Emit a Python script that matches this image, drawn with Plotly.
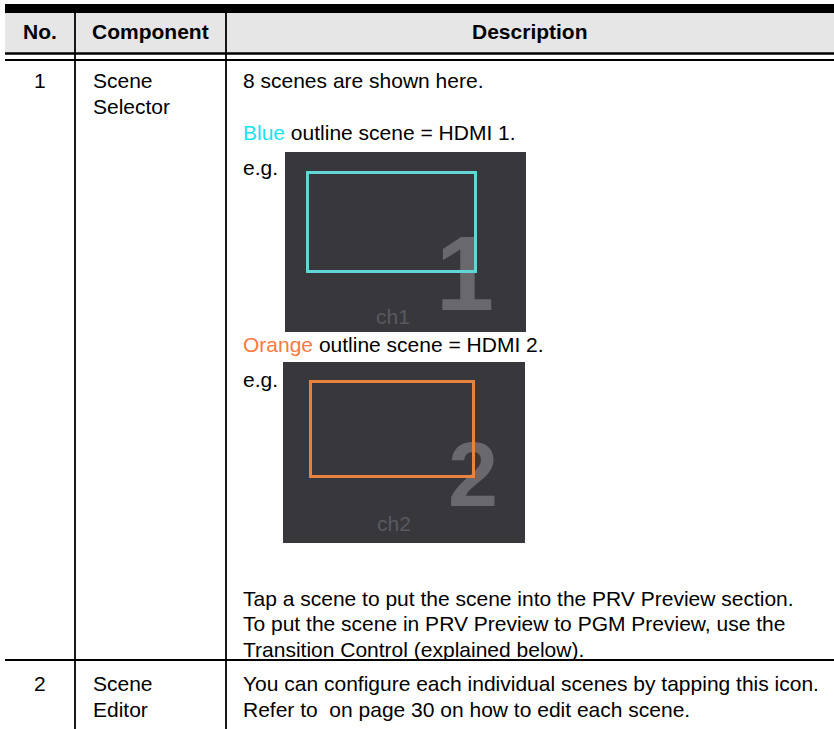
import plotly.graph_objects as go

# ---------------- data (text content of the table) ----------------
header_labels = ["No.", "Component", "Description"]
row_numbers = ["1", "2"]
row_components = [["Scene", "Selector"], ["Scene", "Editor"]]
row1_intro = "8 scenes are shown here."
scene_color_words = ["Blue", "Orange"]
scene_outline_text = ["outline scene = HDMI 1.", "outline scene = HDMI 2."]
scene_example_label = "e.g."
scene_channel_digits = ["1", "2"]
scene_channel_labels = ["ch1", "ch2"]
row1_outro = [
    "Tap a scene to put the scene into the PRV Preview section.",
    "To put the scene in PRV Preview to PGM Preview, use the",
    "Transition Control (explained below).",
]
row2_desc = [
    "You can configure each individual scenes by tapping this icon.",
    "Refer to\u00a0 on page 30 on how to edit each scene.",
]

# ---------------- layout geometry / styles ----------------
W, H = 834, 729
FONT = "Liberation Sans, Arial, Helvetica, sans-serif"
FS = 21
TXT = "#000000"
LEFT = 5
COL_DIV = [75, 226]
COL_CENTERS = [40, 150.5, 530]
X_COMP = 92
X_DESC = 242
HEADER_Y = 31.5
ROW1_Y = [80, 106]
ROW2_Y = [683.5, 709]
INTRO_Y = 80
OUTLINE_Y = [132, 344]
EG_Y = [167.5, 379.5]
OUTRO_Y = [598, 623.5, 649]
ROW_SEP_Y = 660
WORD_COLORS = ["#19E3F2", "#F97A40"]
OUTLINE_COLORS = ["#62D5D6", "#E8823F"]
THUMB_BG = "#37373C"
THUMBS = [  # x0, x1, y0, y1 of the screenshot tiles
    (285, 526, 152, 332),
    (283, 525, 362, 543),
]
OUTLINES = [
    (307.5, 475.5, 172.5, 271.5),
    (310.5, 473.5, 381.5, 476.5),
]
DIGIT_POS = [(465, 284, 105), (473, 483, 90)]
CH_POS = [(393, 316.5), (393.5, 523)]

fig = go.Figure()

shapes = []
# header background and top band
shapes.append(dict(type="rect", x0=LEFT, x1=W, y0=13, y1=52.5, fillcolor="#E6E6E6",
                   line=dict(width=0), layer="below"))
shapes.append(dict(type="rect", x0=LEFT, x1=W, y0=4, y1=13, fillcolor="#000000",
                   line=dict(width=0), layer="below"))
# double rule under header
shapes.append(dict(type="line", x0=LEFT, x1=W, y0=53.5, y1=53.5, line=dict(color="#000", width=2.3)))
shapes.append(dict(type="line", x0=LEFT, x1=W, y0=60, y1=60, line=dict(color="#000", width=1.8)))
# row separator
shapes.append(dict(type="line", x0=LEFT, x1=W, y0=ROW_SEP_Y, y1=ROW_SEP_Y, line=dict(color="#000", width=1.8)))
# column dividers
for xd in COL_DIV:
    shapes.append(dict(type="line", x0=xd, x1=xd, y0=13, y1=H, line=dict(color="#000", width=1.8)))
# thumbnails
for (x0, x1, y0, y1) in THUMBS:
    shapes.append(dict(type="rect", x0=x0, x1=x1, y0=y0, y1=y1, fillcolor=THUMB_BG,
                       line=dict(width=0), layer="below"))
for (x0, x1, y0, y1), col in zip(OUTLINES, OUTLINE_COLORS):
    shapes.append(dict(type="rect", x0=x0, x1=x1, y0=y0, y1=y1, fillcolor="rgba(0,0,0,0)",
                       line=dict(color=col, width=3), layer="above"))

# big channel digits (drawn under the outlines)
for d, (x, y, s) in zip(scene_channel_digits, DIGIT_POS):
    fig.add_trace(go.Scatter(
        x=[x], y=[y], mode="text", text=[f"<b>{d}</b>"], textposition="middle center",
        textfont=dict(family=FONT, size=s, color="#68686D"), hoverinfo="skip", showlegend=False))

ann = []


def add_text(x, y, text, anchor="left", bold=False, color=TXT, size=FS):
    ann.append(dict(x=x, y=y, xref="x", yref="y", text=(f"<b>{text}</b>" if bold else text),
                    showarrow=False, xanchor=anchor, yanchor="middle",
                    font=dict(family=FONT, size=size, color=color), borderpad=0))


# header
for lbl, xc in zip(header_labels, COL_CENTERS):
    add_text(xc, HEADER_Y, lbl, anchor="center", bold=True)

# row 1
add_text(COL_CENTERS[0], ROW1_Y[0], row_numbers[0], anchor="center")
for t, y in zip(row_components[0], ROW1_Y):
    add_text(X_COMP, y, t)
add_text(X_DESC, INTRO_Y, row1_intro)
for w, rest, col, y in zip(scene_color_words, scene_outline_text, WORD_COLORS, OUTLINE_Y):
    add_text(X_DESC, y, f"<span style='color:{col}'>{w}</span> {rest}")
for y in EG_Y:
    add_text(X_DESC, y, scene_example_label)
for lbl, (x, y) in zip(scene_channel_labels, CH_POS):
    add_text(x, y, lbl, anchor="center", color="#5A5A5F")
for t, y in zip(row1_outro, OUTRO_Y):
    add_text(X_DESC, y, t)

# row 2
add_text(COL_CENTERS[0], ROW2_Y[0], row_numbers[1], anchor="center")
for t, y in zip(row_components[1], ROW2_Y):
    add_text(X_COMP, y, t)
for t, y in zip(row2_desc, ROW2_Y):
    add_text(X_DESC, y, t)

fig.update_layout(
    width=W, height=H, margin=dict(l=0, r=0, t=0, b=0),
    paper_bgcolor="white", plot_bgcolor="white",
    xaxis=dict(range=[0, W], visible=False, fixedrange=True),
    yaxis=dict(range=[H, 0], visible=False, fixedrange=True),
    shapes=shapes, annotations=ann, showlegend=False,
)
fig.write_html(
    "out.html",
    config={"displayModeBar": False},
    post_script="document.body.style.margin='0';document.body.style.overflow='hidden';",
)
